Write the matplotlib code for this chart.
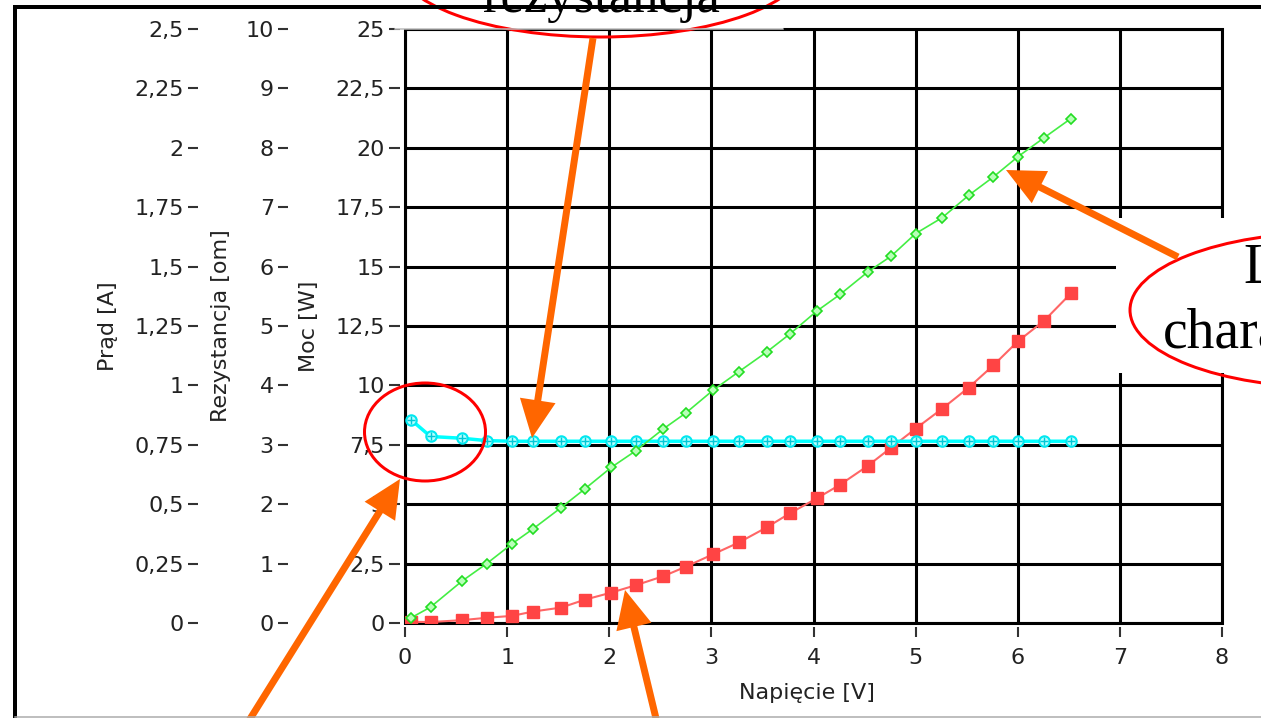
import matplotlib

matplotlib.use("Agg")
import matplotlib.pyplot as plt
from matplotlib.patches import Ellipse, FancyArrow, Rectangle
from matplotlib.ticker import FuncFormatter, MultipleLocator

napiecie = [0.06, 0.25, 0.56, 0.80, 1.05, 1.25, 1.53, 1.76, 2.02, 2.26, 2.53, 2.75, 3.02, 3.27,
            3.54, 3.77, 4.03, 4.26, 4.53, 4.76, 5.00, 5.26, 5.52, 5.76, 6.00, 6.26, 6.52]
moc = [0.05, 0.04, 0.12, 0.22, 0.30, 0.48, 0.65, 0.98, 1.28, 1.59, 1.97, 2.37, 2.90, 3.39,
       4.02, 4.62, 5.24, 5.82, 6.61, 7.38, 8.18, 9.02, 9.91, 10.84, 11.85, 12.73, 13.87]
prad = [0.022, 0.067, 0.177, 0.25, 0.334, 0.395, 0.486, 0.564, 0.655, 0.725, 0.817, 0.884, 0.981, 1.058,
        1.14, 1.217, 1.312, 1.383, 1.477, 1.544, 1.639, 1.706, 1.80, 1.877, 1.962, 2.043, 2.123]
rezystancja = [3.42, 3.14, 3.11, 3.07] + [3.06] * 23

W, H = 1261, 718
FS = 16
TICK_C = "#333333"
px = 0.72  # points per pixel at dpi 100


def comma(v, _pos=None):
    return f"{v:g}".replace(".", ",")


fig = plt.figure(figsize=(W / 100, H / 100), dpi=100)
left, right, top, bottom = 405, 1222, 29, 623
ax = fig.add_axes([left / W, (H - bottom) / H, (right - left) / W, (bottom - top) / H])
ax.set_xlim(0, 8)
ax.set_ylim(0, 25)
ax.xaxis.set_major_locator(MultipleLocator(1))
ax.yaxis.set_major_locator(MultipleLocator(2.5))
ax.yaxis.set_major_formatter(FuncFormatter(comma))
ax.grid(True, color="black", lw=2.2)
ax.set_axisbelow(True)
for s in ax.spines.values():
    s.set_visible(False)
ax.spines["left"].set_position(("outward", 5 * px))
ax.spines["bottom"].set_position(("outward", 4 * px))
ax.tick_params(axis="y", length=11 * px, width=1.5, color=TICK_C, labelsize=FS, pad=3, labelcolor="#222222")
ax.tick_params(axis="x", length=10 * px, width=1.5, color=TICK_C, labelsize=FS, pad=8, labelcolor="#222222")
ax.add_patch(Rectangle((0, 0), 1, 1, transform=ax.transAxes, fill=False, ec="black", lw=2.2, clip_on=False))
ax.set_xlabel("Napięcie [V]", fontsize=FS, color="#222222")
ax.xaxis.set_label_coords((807 - left) / (right - left), -(693 - bottom) / (bottom - top))
ax.xaxis.label.set_va("center")
ax.set_ylabel("Moc [W]", fontsize=FS, color="#222222", va="center")
ax.yaxis.set_label_coords((309 - left) / (right - left), 0.5)

ax.plot(napiecie, moc, color="#FF6666", lw=1.5, marker="s", ms=8, mfc="#FF4444", mec="#FF4444", zorder=3)

# resistance scale
ax_r = ax.twinx()
ax_r.set_ylim(0, 10)
ax_r.yaxis.tick_left()
ax_r.yaxis.set_label_position("left")
ax_r.yaxis.set_major_locator(MultipleLocator(1))
ax_r.yaxis.set_major_formatter(FuncFormatter(comma))
for s in ax_r.spines.values():
    s.set_visible(False)
ax_r.spines["left"].set_position(("outward", 117 * px))
ax_r.tick_params(axis="y", length=10 * px, width=1.5, color=TICK_C, labelsize=FS, pad=3, labelcolor="#222222")
ax_r.set_ylabel("Rezystancja [om]", fontsize=FS, color="#222222", va="center")
ax_r.yaxis.set_label_coords((221 - left) / (right - left), 0.5)
ax_r.plot(napiecie, rezystancja, color="#00FFFF", lw=2.5, marker="o", ms=7.5, mfc="#B0FFFF", mec="#00E8F0", mew=1.5)
ax_r.plot(napiecie, rezystancja, ls="none", marker="+", ms=6, mec="#00C8D8", mew=1)

# current scale
ax_p = ax.twinx()
ax_p.set_ylim(0, 2.5)
ax_p.yaxis.tick_left()
ax_p.yaxis.set_label_position("left")
ax_p.yaxis.set_major_locator(MultipleLocator(0.25))
ax_p.yaxis.set_major_formatter(FuncFormatter(comma))
for s in ax_p.spines.values():
    s.set_visible(False)
ax_p.spines["left"].set_position(("outward", 207 * px))
ax_p.tick_params(axis="y", length=10 * px, width=1.5, color=TICK_C, labelsize=FS, pad=3, labelcolor="#222222")
ax_p.set_ylabel("Prąd [A]", fontsize=FS, color="#222222", va="center")
ax_p.yaxis.set_label_coords((108 - left) / (right - left), 0.5)
ax_p.plot(napiecie, prad, color="#44EE44", lw=1.2, marker="D", ms=5.5, mfc="#B8FFB8", mec="#22DD22", mew=1.2)

# overlay with the slide annotations, in pixel coordinates
ov = fig.add_axes([0, 0, 1, 1], zorder=10)
ov.set_xlim(0, W)
ov.set_ylim(H, 0)
ov.axis("off")

ov.plot([15, 15], [5, H], color="black", lw=4 * px, solid_capstyle="butt")
ov.plot([13, W], [7, 7], color="black", lw=4 * px, solid_capstyle="butt")
ov.plot([15, W], [716.5, 716.5], color="#AAAAAA", lw=1.5 * px)

ov.add_patch(Rectangle((395, -5), 388, 34, fc="white", ec="none"))
ov.plot([395, 783], [29, 29], color="#BBBBBB", lw=1.5 * px)
ov.add_patch(Rectangle((1116, 218), 160, 155, fc="white", ec="none"))

serif = "Liberation Serif"
ov.text(601, 12, "rezystancja", family=serif, fontsize=38, ha="center", va="baseline")
ov.text(1243, 283, "Liniowa", family=serif, fontsize=40, ha="left", va="baseline")
ov.text(1163, 348, "charakterystyka", family=serif, fontsize=40, ha="left", va="baseline")

red = "#FF0000"
ov.add_patch(Ellipse((601, -38), 410, 150, fill=False, ec=red, lw=3 * px))
ov.add_patch(Ellipse((425, 432), 121, 98, fill=False, ec=red, lw=3 * px))
ov.add_patch(Ellipse((1330, 310), 400, 155, fill=False, ec=red, lw=3 * px))

orange = "#FF6600"
arrows = [((593, 38), (532, 438)), ((240, 735), (400, 479)), ((660, 735), (625, 590)), ((1178, 257), (1006, 170))]
for (x0, y0), (x1, y1) in arrows:
    ov.add_patch(FancyArrow(x0, y0, x1 - x0, y1 - y0, width=7, head_width=36, head_length=38,
                            length_includes_head=True, fc=orange, ec="none"))

fig.savefig("out.png", dpi=100)
